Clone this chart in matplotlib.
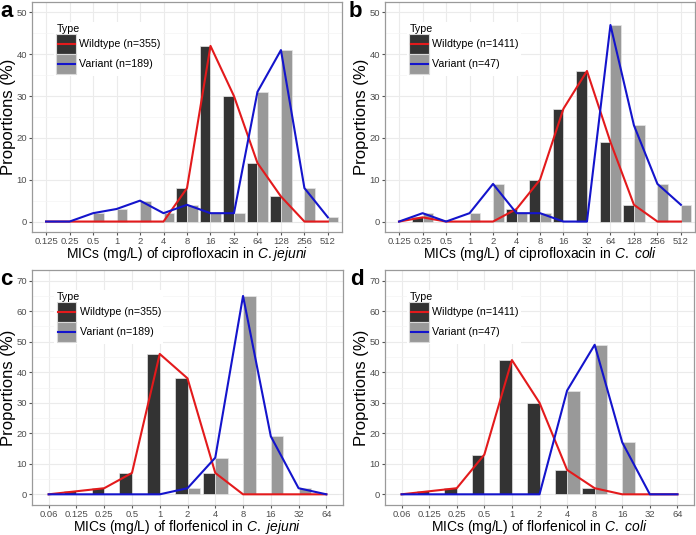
import matplotlib
matplotlib.use("Agg")
import matplotlib.pyplot as plt
from matplotlib.patches import Patch, Rectangle
from matplotlib.lines import Line2D
from matplotlib.ticker import MultipleLocator
import numpy as np

plt.rcParams["font.family"] = ["Liberation Sans", "DejaVu Sans"]
plt.rcParams["mathtext.fontset"] = "custom"
plt.rcParams["mathtext.rm"] = "Liberation Sans"
plt.rcParams["mathtext.it"] = "Liberation Sans:italic"

# MIC categories
cipro_mics = ["0.125", "0.25", "0.5", "1", "2", "4", "8", "16", "32", "64", "128", "256", "512"]
flor_mics = ["0.06", "0.125", "0.25", "0.5", "1", "2", "4", "8", "16", "32", "64"]

# proportions (%)
a_wild = [0, 0, 0, 0, 0, 0, 8, 42, 30, 14, 6, 0, 0]
a_var = [0, 0, 2, 3, 5, 2, 4, 2, 2, 31, 41, 8, 1]
b_wild = [0, 1, 0, 0, 0, 3, 10, 27, 36, 19, 4, 0, 0]
b_var = [0, 2, 0, 2, 9, 2, 2, 0, 0, 47, 23, 9, 4]
c_wild = [0, 1, 2, 7, 46, 38, 7, 0, 0, 0, 0]
c_var = [0, 0, 0, 0, 0, 2, 12, 65, 19, 2, 0]
d_wild = [0, 1, 2, 13, 44, 30, 8, 2, 0, 0, 0]
d_var = [0, 0, 0, 0, 0, 0, 34, 49, 17, 0, 0]

letters = ["a", "b", "c", "d"]
xlabels = [r"MICs (mg/L) of ciprofloxacin in $\it{C.jejuni}$",
           r"MICs (mg/L) of ciprofloxacin in $\it{C.\ coli}$",
           r"MICs (mg/L) of florfenicol in $\it{C.\ jejuni}$",
           r"MICs (mg/L) of florfenicol in $\it{C.\ coli}$"]
wild_n = ["Wildtype (n=355)", "Wildtype (n=1411)", "Wildtype (n=355)", "Wildtype (n=1411)"]
var_n = ["Variant (n=189)", "Variant (n=47)", "Variant (n=189)", "Variant (n=47)"]
cats = [cipro_mics, cipro_mics, flor_mics, flor_mics]
wild = [a_wild, b_wild, c_wild, d_wild]
var = [a_var, b_var, c_var, d_var]
ymax = [50, 50, 70, 70]

dark = "#333333"
light = "#999999"
red = "#e31a1c"
blue = "#1414cc"
W, H = 696, 535
# axes boxes in pixels: left, top, right, bottom
boxes = [(32, 2, 342, 232), (385, 2, 695, 232), (32, 270, 343, 505), (385, 270, 694, 505)]
# letter left edge and baseline in pixels
letter_pos = [(0, 17), (349, 17), (0, 285), (350, 285)]


class KeyHandler:
    # filled square with the line drawn across its middle (ggplot style key)
    def __init__(self, face, line):
        self.face = face
        self.line = line

    def legend_artist(self, legend, orig_handle, fontsize, handlebox):
        x0, y0 = -handlebox.xdescent, -handlebox.ydescent
        w, h = handlebox.width, handlebox.height
        tr = handlebox.get_transform()
        rect = Rectangle((x0, y0), w, h, facecolor=self.face, edgecolor="#d9d9d9", lw=0.8, transform=tr)
        ln = Line2D([x0 + 1, x0 + w - 1], [y0 + h / 2] * 2, color=self.line, lw=1.5, transform=tr)
        handlebox.add_artist(rect)
        handlebox.add_artist(ln)
        return rect


fig = plt.figure(figsize=(W / 100, H / 100), dpi=100)

for i in range(4):
    l, t, r, b = boxes[i]
    ax = fig.add_axes([l / W, 1 - b / H, (r - l) / W, (b - t) / H])
    x = np.arange(len(cats[i]))
    ax.bar(x - 0.225, wild[i], width=0.45, color=dark, edgecolor="#e6e6e6", linewidth=0.5, zorder=2)
    ax.bar(x + 0.225, var[i], width=0.45, color=light, edgecolor="#e6e6e6", linewidth=0.5, zorder=2)
    ax.plot(x, wild[i], color=red, lw=1.5, zorder=3)
    ax.plot(x, var[i], color=blue, lw=1.5, zorder=3)

    ax.set_xlim(-0.6, len(x) - 0.4)
    ax.set_ylim(-ymax[i] * 0.05, ymax[i] * 1.05)
    ax.set_xticks(x)
    ax.set_xticklabels(cats[i])
    ax.yaxis.set_major_locator(MultipleLocator(10))
    ax.yaxis.set_minor_locator(MultipleLocator(5))
    ax.grid(which="major", color="#ebebeb", lw=0.8, zorder=0)
    ax.grid(which="minor", axis="y", color="#f4f4f4", lw=0.5, zorder=0)
    ax.set_axisbelow(True)
    for s in ax.spines.values():
        s.set_color("#9a9a9a")
        s.set_linewidth(0.9)
    ax.tick_params(which="major", length=2.2, color="#555555", labelsize=6.8, labelcolor="#4d4d4d", pad=1.5)
    ax.tick_params(which="minor", length=0)

    aw, ah = r - l, b - t
    ax.set_ylabel("Proportions (%)", fontsize=12)
    ax.yaxis.set_label_coords(-16 / aw, 0.5)
    ax.set_xlabel(xlabels[i], fontsize=10, va="top")
    ax.xaxis.set_label_coords(0.5, -13 / ah)

    h1 = Patch(facecolor=dark)
    h2 = Patch(facecolor=light)
    ax.legend([h1, h2], [wild_n[i], var_n[i]], title="Type", loc="upper left",
              handler_map={h1: KeyHandler(dark, red), h2: KeyHandler(light, blue)},
              bbox_to_anchor=(0.072, 0.915), fontsize=7.7, title_fontsize=7.7,
              handlelength=1.85, handleheight=2.5, labelspacing=0.0, handletextpad=0.3,
              borderpad=0.2, borderaxespad=0, frameon=True, facecolor="white",
              edgecolor="none", fancybox=False, framealpha=1, alignment="left")

    fig.text(letter_pos[i][0] / W, 1 - letter_pos[i][1] / H, letters[i], fontsize=16,
             fontweight="bold", va="baseline", ha="left")

fig.savefig("out.png", dpi=100)
